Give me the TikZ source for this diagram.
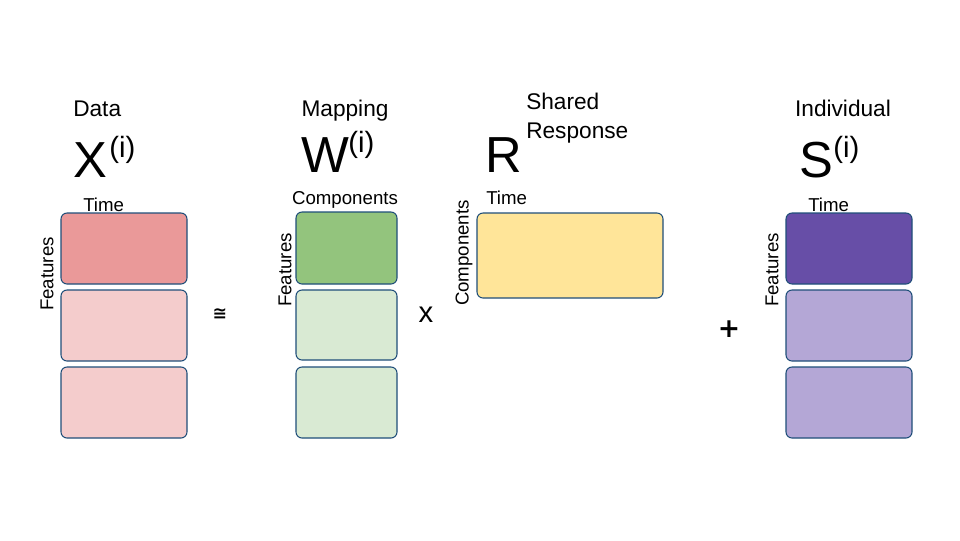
\documentclass[tikz,border=0pt]{standalone}
\usepackage{fontspec}
\setmainfont{Liberation Sans}
\newfontfamily\djsans{DejaVu Sans}
\begin{document}
\begin{tikzpicture}[x=0.75pt,y=-0.75pt,
  lbl/.style={inner sep=0pt, font=\fontsize{17}{20}\selectfont},
  small/.style={inner sep=0pt, font=\fontsize{14}{16}\selectfont},
  big/.style={inner sep=0pt, font=\fontsize{38}{44}\selectfont},
  sup/.style={inner sep=0pt, font=\fontsize{22}{26}\selectfont}]
\definecolor{bd}{HTML}{1F4E79}
\definecolor{redA}{HTML}{EA9999}
\definecolor{redB}{HTML}{F4CCCC}
\definecolor{grA}{HTML}{93C47D}
\definecolor{grB}{HTML}{D9EAD3}
\definecolor{yel}{HTML}{FFE599}
\definecolor{puA}{HTML}{674EA7}
\definecolor{puB}{HTML}{B4A7D6}
\tikzset{blk/.style={draw=bd, line width=0.8pt, rounded corners=4.5pt}}
\useasboundingbox (0,0) rectangle (960,540);
% Data
\filldraw[blk, fill=redA] (61,213) rectangle (187,284);
\filldraw[blk, fill=redB] (61,290) rectangle (187,361);
\filldraw[blk, fill=redB] (61,367) rectangle (187,438);
\node[lbl, anchor=base west] (dlab) at (73,116) {Data};
\node[big, anchor=base west] (X) at (73,177) {X};
\node[sup, anchor=base west] (Xs) at (109,157) {(i)};
\node[small, anchor=base west] (dt) at (83,211) {Time};
\node[small, rotate=90, anchor=center] (df) at (47,274) {Features};
\node[inner sep=0pt, font=\djsans\bfseries\fontsize{13}{15}\selectfont] (approx) at (220,314) {≅};
% Mapping
\filldraw[blk, fill=grA] (296,212) rectangle (397,284);
\filldraw[blk, fill=grB] (296,290) rectangle (397,360);
\filldraw[blk, fill=grB] (296,367) rectangle (397,438);
\node[lbl, anchor=base] (mlab) at (345,116) {Mapping};
\node[big, anchor=base west] (W) at (301,172) {W};
\node[sup, anchor=base west] (Ws) at (348,152) {(i)};
\node[small, anchor=base] (mc) at (345,204) {Components};
\node[small, rotate=90, anchor=center] (mf) at (285,270) {Features};
\node[inner sep=0pt, font=\fontsize{22}{24}\selectfont] (times) at (426,315) {x};
% Shared response
\filldraw[blk, fill=yel] (477,213) rectangle (663,298);
\node[big, anchor=base west] (R) at (485,172) {R};
\node[lbl, anchor=base west] (sh) at (526,109) {Shared};
\node[lbl, anchor=base west] (rs) at (526,138) {Response};
\node[small, anchor=base west] (rt) at (486,204) {Time};
\node[small, rotate=90, anchor=center] (rc) at (464,253) {Components};
\node[inner sep=0pt, font=\djsans\bfseries\fontsize{20}{24}\selectfont] (plus) at (729,329) {+};
% Individual
\filldraw[blk, fill=puA] (786,213) rectangle (912,284);
\filldraw[blk, fill=puB] (786,290) rectangle (912,361);
\filldraw[blk, fill=puB] (786,367) rectangle (912,438);
\node[lbl, anchor=base] (ilab) at (843,116) {Individual};
\node[big, anchor=base west] (S) at (799,177) {S};
\node[sup, anchor=base west] (Ss) at (833,157) {(i)};
\node[small, anchor=base west] (it) at (808,211) {Time};
\node[small, rotate=90, anchor=center] (if) at (772,270) {Features};
\end{tikzpicture}
\end{document}
